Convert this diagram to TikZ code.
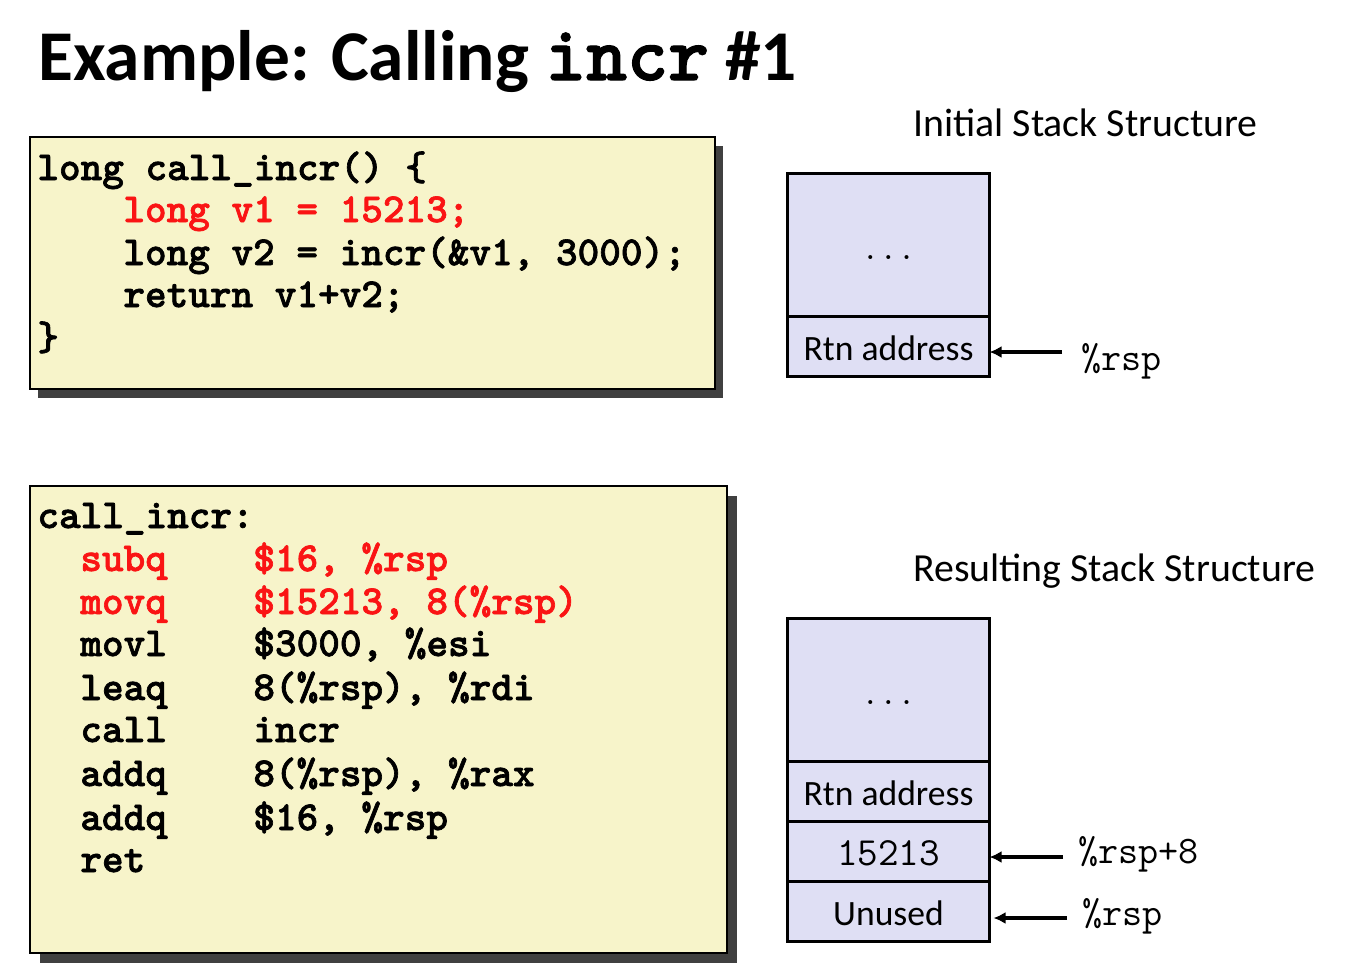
\documentclass[tikz,border=0pt]{standalone}
\usepackage{fontspec}
\setmainfont{Carlito}
\newfontfamily\codebold{lmmonolt10-bold}[Extension=.otf, FakeBold=1.6]
\usetikzlibrary{positioning}
\usetikzlibrary{arrows.meta}

\definecolor{codebg}{RGB}{247,244,202}
\definecolor{stackbg}{RGB}{223,223,244}
\definecolor{hilite}{RGB}{250,20,20}
\definecolor{shade}{RGB}{64,64,64}

\begin{document}
\begin{tikzpicture}[x=0.5pt, y=-0.5pt,
  titletext/.style={anchor=base west, inner sep=0pt, font=\bfseries\fontsize{35.7pt}{40pt}\selectfont},
  heading/.style={anchor=base west, inner sep=0pt, font=\fontsize{19.9pt}{22pt}\selectfont},
  codebox/.style={draw=black, line width=1pt, fill=codebg, anchor=north west, inner sep=0pt, outer sep=0pt},
  shadowbox/.style={fill=shade, anchor=north west, inner sep=0pt, outer sep=0pt},
  codeline/.style={anchor=base west, inner sep=0pt, font=\codebold\fontsize{20.6pt}{22pt}\selectfont},
  cell/.style={draw=black, line width=1.7pt, fill=stackbg, minimum width=101pt, inner sep=0pt, outer sep=0pt,
               text height=14pt, text depth=0pt, font=\fontsize{17.8pt}{20pt}\selectfont},
  reg/.style={anchor=base west, inner sep=0pt, font=\ttfamily\fontsize{19.5pt}{22pt}\selectfont},
  ptr/.style={line width=1.6pt, -{Latex[length=6pt, width=6pt]}}]
\useasboundingbox (0,0) rectangle (1367,969);

  % title
  \node[titletext] (title) at (38,80) {Example: Calling {\codebold\fontsize{39pt}{40pt}\selectfont incr} \#1};

  % C code
  \node[shadowbox, minimum width=342.5pt, minimum height=126pt] (csrcshadow) at (38,146) {};
  \node[codebox, minimum width=342.5pt, minimum height=126pt] (csrc) at (30,137) {};
  \node[codeline] (c1) at (37,180) {long call\_incr() \{};
  \node[codeline, text=hilite] (c2) at (123,222) {long v1 = 15213;};
  \node[codeline] (c3) at (123,265) {long v2 = incr(\&v1, 3000);};
  \node[codeline] (c4) at (123,307) {return v1+v2;};
  \node[codeline] (c5) at (37,350) {\}};

  % assembly
  \node[shadowbox, minimum width=348.5pt, minimum height=233.5pt] (asmshadow) at (40,496) {};
  \node[codebox, minimum width=348.5pt, minimum height=233.5pt] (asm) at (30,486) {};
  \node[codeline] (a0) at (37,528) {call\_incr:};
  \node[codeline, text=hilite] (op1) at (80,571) {subq};
  \node[codeline, text=hilite] (arg1) at (253,571) {\$16, \%rsp};
  \node[codeline, text=hilite] (op2) at (80,614) {movq};
  \node[codeline, text=hilite] (arg2) at (253,614) {\$15213, 8(\%rsp)};
  \node[codeline] (op3) at (80,656) {movl};
  \node[codeline] (arg3) at (253,656) {\$3000, \%esi};
  \node[codeline] (op4) at (80,700) {leaq};
  \node[codeline] (arg4) at (253,700) {8(\%rsp), \%rdi};
  \node[codeline] (op5) at (80,742) {call};
  \node[codeline] (arg5) at (253,742) {incr};
  \node[codeline] (op6) at (80,786) {addq};
  \node[codeline] (arg6) at (253,786) {8(\%rsp), \%rax};
  \node[codeline] (op7) at (80,830) {addq};
  \node[codeline] (arg7) at (253,830) {\$16, \%rsp};
  \node[codeline] (op8) at (80,872) {ret};

  % initial stack
  \node[heading] (inithead) at (913,136) {Initial Stack Structure};
  \node[cell, minimum height=71.5pt] (dots1) at (888.5,245) {\ttfamily\fontsize{17.5pt}{18pt}\selectfont ...};
  \node[cell, minimum height=30pt, below=0pt of dots1] (rtn1) {Rtn address};
  \coordinate (rsp1) at (1062,352);
  \draw[ptr] (rsp1) -- (rsp1 -| rtn1.east);
  \node[reg] (rsp1lbl) at (1081,370) {\%rsp};

  % resulting stack
  \node[heading] (resulthead) at (913,581) {Resulting Stack Structure};
  \node[cell, minimum height=71.5pt] (dots2) at (888.5,690) {\ttfamily\fontsize{17.5pt}{18pt}\selectfont ...};
  \node[cell, minimum height=30pt, below=0pt of dots2] (rtn2) {Rtn address};
  \node[cell, minimum height=30pt, below=0pt of rtn2, font=\ttfamily\fontsize{20pt}{22pt}\selectfont] (val2) {15213};
  \node[cell, minimum height=30pt, below=0pt of val2] (unused2) {Unused};
  \coordinate (rsp2) at (1063,857);
  \draw[ptr] (rsp2) -- (rsp2 -| val2.east);
  \node[reg] (rsp2lbl) at (1078,863) {\%rsp+8};
  \coordinate (rsp3) at (1067,918);
  \draw[ptr, shorten >=2pt] (rsp3) -- (rsp3 -| unused2.east);
  \node[reg] (rsp3lbl) at (1082,925) {\%rsp};
\end{tikzpicture}
\end{document}
